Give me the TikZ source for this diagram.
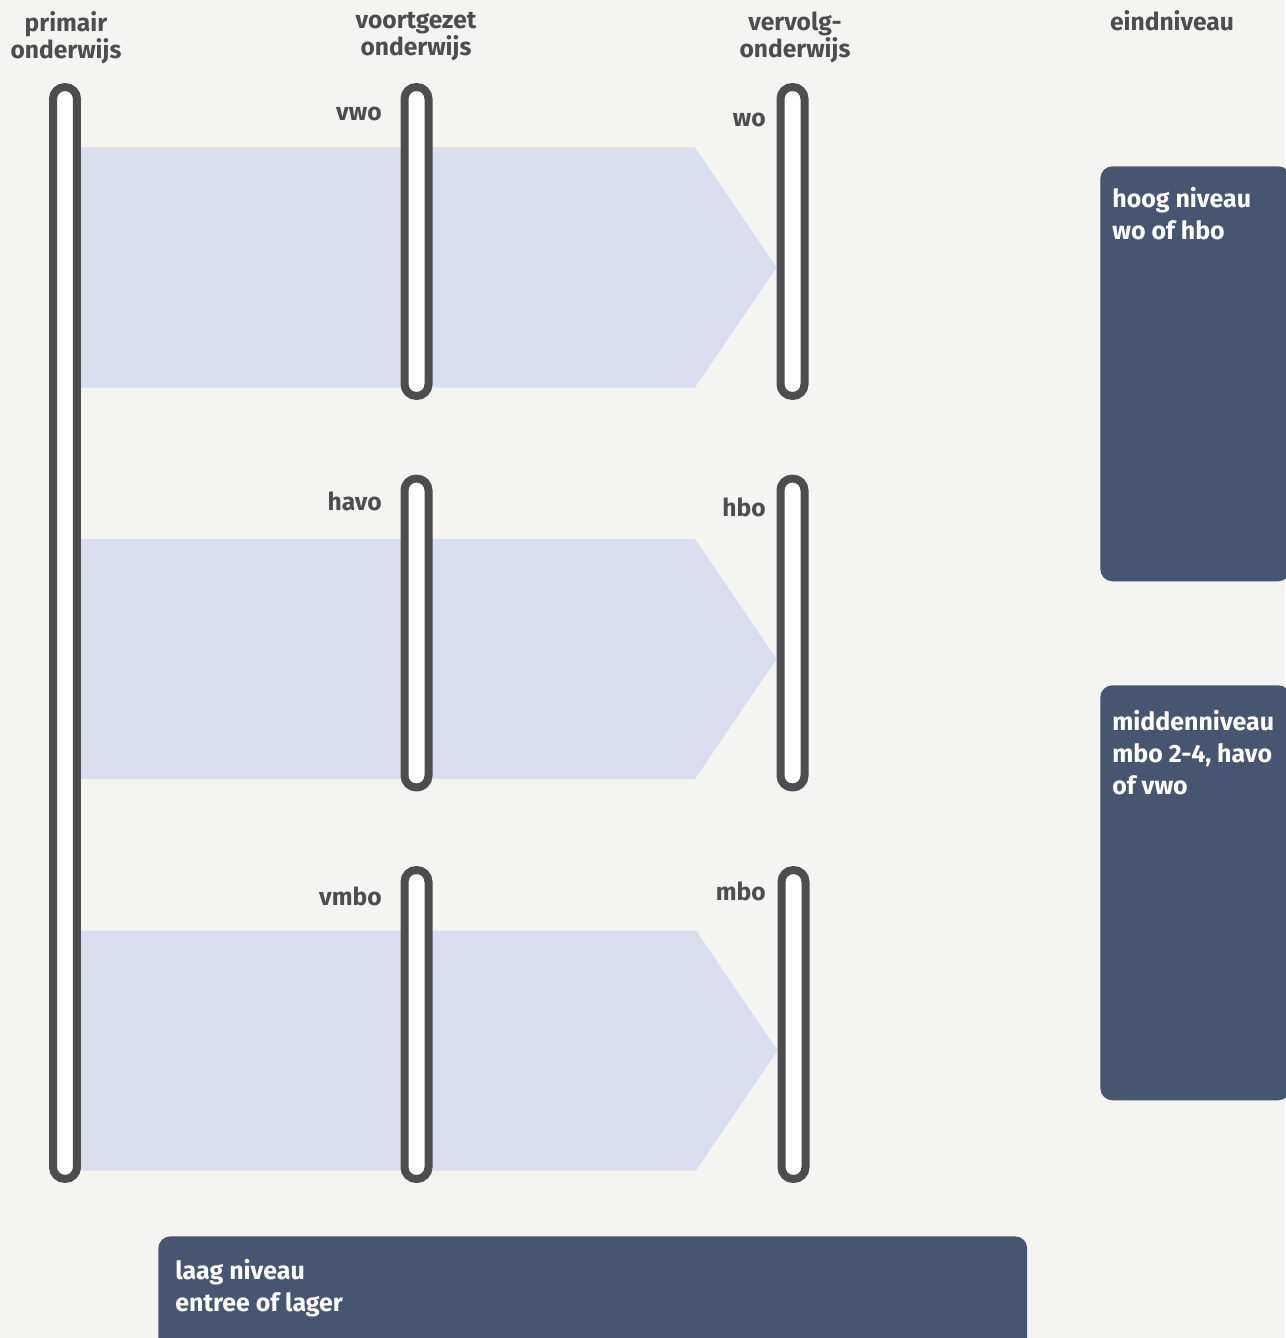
\documentclass[tikz,border=0pt]{standalone}
\usepackage{fontspec}
\setmainfont{Fira Sans}
\usetikzlibrary{backgrounds,calc}
\definecolor{paper}{HTML}{F4F4F2}
\definecolor{ink}{HTML}{4D4D4F}
\definecolor{bandFill}{HTML}{DADDED}
\definecolor{levelBlue}{HTML}{465570}

\begin{document}
\begin{tikzpicture}[
  x=0.02cm, y=-0.02cm,
  font=\bfseries\fontsize{14}{13.6}\selectfont,
  head/.style={text=ink, align=center, inner sep=0pt, anchor=north},
  tag/.style={text=ink, inner sep=0pt, anchor=base east},
  rail/.style={draw=ink, fill=white, line width=0.16cm, rounded corners=0.235cm, minimum width=0.48cm, inner sep=0pt},
  band/.style={fill=bandFill},
  level/.style={fill=levelBlue, rounded corners=0.24cm, inner sep=0pt, anchor=north west},
  leveltext/.style={text=white, align=left, inner sep=0pt, anchor=north west, font=\bfseries\fontsize{14.2}{18.2}\selectfont}
]
\useasboundingbox (0,0) rectangle (1285,1338);

% ------------------------------------------------------------------
% column headers
% ------------------------------------------------------------------
\node[head] (hprim) at (66,11) {primair\\onderwijs};
\node[head] (hvo) at (416,12) {voortgezet\\onderwijs};
\node[head] (hvervolg) at (795,11) {vervolg-\\onderwijs};
\node[head] (heind) at (1172,10) {eindniveau};

% ------------------------------------------------------------------
% rails per school type
% ------------------------------------------------------------------
\node[rail, minimum height=21.84cm] (po) at (65,633) {};
\node[rail, minimum height=6.18cm] (vwo) at (416.5,241.5) {};
\node[rail, minimum height=6.18cm] (havo) at (416.5,633) {};
\node[rail, minimum height=6.18cm] (vmbo) at (416.5,1024.5) {};
\node[rail, minimum height=6.18cm] (wo) at (792.5,241.5) {};
\node[rail, minimum height=6.18cm] (hbo) at (792.5,633) {};
\node[rail, minimum height=6.18cm] (mbo) at (793.5,1024.5) {};

\node[tag] (tvwo) at (382,121) {vwo};
\node[tag] (two) at (766,127) {wo};
\node[tag] (thavo) at (382,510) {havo};
\node[tag] (thbo) at (766,516) {hbo};
\node[tag] (tvmbo) at (382,905) {vmbo};
\node[tag] (tmbo) at (766,900) {mbo};

% flows behind the rails
\begin{pgfonlayer}{background}
\fill[paper] (0,0) rectangle (1285,1338);
\foreach \src/\dst in {vwo/wo, havo/hbo, vmbo/mbo} {
  \fill[band] ($(po.center |- \src.center)+(0,-94)$) -- ($(\dst.center)+(-97.5,-94)$)
    -- ($(\dst.west)+(0,26)$) -- ($(\dst.center)+(-97.5,146)$)
    -- ($(po.center |- \src.center)+(0,146)$) -- cycle;
}
\end{pgfonlayer}

% ------------------------------------------------------------------
% end levels
% ------------------------------------------------------------------
\node[level, minimum width=3.8cm, minimum height=8.3cm] (hoog) at (1100,166) {};
\node[level, minimum width=3.8cm, minimum height=8.3cm] (midden) at (1100,685) {};
\node[level, minimum width=17.38cm, minimum height=2.6cm] (laag) at (158,1236) {};

\node[leveltext] (thoog) at ($(hoog.north west)+(12,21)$) {hoog niveau\\wo of hbo};
\node[leveltext] (tmidden) at ($(midden.north west)+(12,25)$) {middenniveau\\mbo 2-4, havo\\of vwo};
\node[leveltext] (tlaag) at ($(laag.north west)+(17,23)$) {laag niveau\\entree of lager};

\end{tikzpicture}
\end{document}
